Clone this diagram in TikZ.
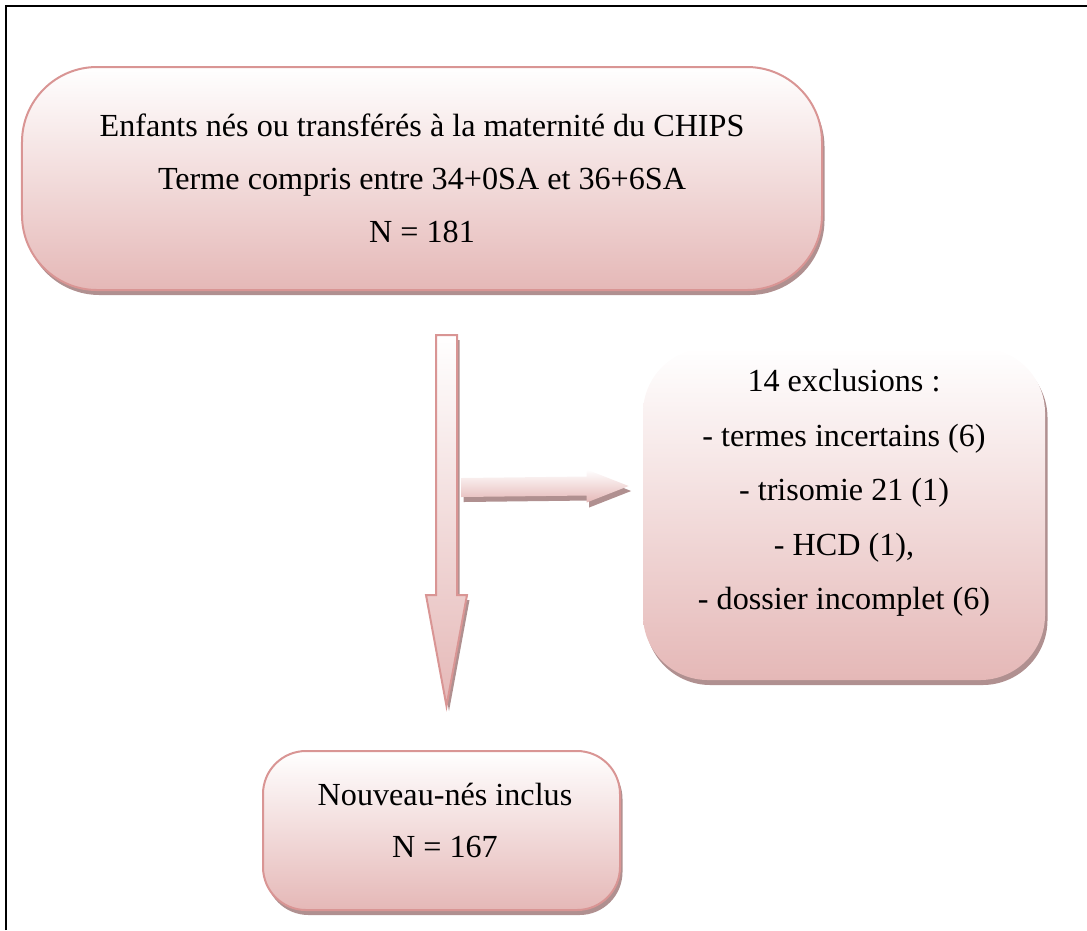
\documentclass[tikz,border=0pt]{standalone}
\usepackage{fontspec}
\setmainfont{Liberation Serif}
\usetikzlibrary{calc,shadows}

\definecolor{rosaline}{HTML}{D99594}
\definecolor{rosafill}{HTML}{E5B8B7}
\definecolor{rosashadow}{HTML}{B09090}

\tikzset{
	boxshadow/.style={drop shadow={shadow xshift=0.5mm, shadow yshift=-1mm, fill=rosashadow, opacity=1}},
	rosebox/.style={top color=white, bottom color=rosafill, boxshadow},
	roseline/.style={draw=rosaline, line width=0.4mm},
	boxtext/.style={align=center, font=\fontsize{18.3}{30}\selectfont, inner sep=0pt},
}

\begin{document}
\begin{tikzpicture}[
x=0.2mm,
y=-0.2mm,
]

	\useasboundingbox (0,0) rectangle (1087,930);

	%%%%%%%%%%%%%%%%%%%%%%%%%%%%
	%Rahmen
	%%%%%%%%%%%%%%%%%%%%%%%%%%%%
	\draw [line width=0.45mm] (6,930) -- (6,6) -- (1087,6);

	%%%%%%%%%%%%%%%%%%%%%%%%%%%%
	%Boxen
	%%%%%%%%%%%%%%%%%%%%%%%%%%%%
	\node [rosebox, roseline, boxtext, rounded corners=15mm, minimum width=160mm, minimum height=44.6mm] (source) at (422,178.5)
		{Enfants nés ou transférés à la maternité du CHIPS\\Terme compris entre 34+0SA et 36+6SA\\N = 181};

	\node [rosebox, rounded corners=13mm, minimum width=80.4mm, minimum height=66.4mm] (excl) at (844,514) {};
	\node [boxtext, font=\fontsize{18.3}{31}\selectfont] (excltext) at ($(excl.center)+(0,-21)$)
		{14 exclusions :\\- termes incertains (6)\\- trisomie 21 (1)\\- HCD (1),\\- dossier incomplet (6)};

	\node [rosebox, roseline, rounded corners=8.6mm, minimum width=71.4mm, minimum height=31.8mm] (incl) at (441.5,830.5) {};
	\node [boxtext] (incltext) at ($(incl.center)+(3.5,-10)$) {Nouveau-nés inclus\\N = 167};

	%%%%%%%%%%%%%%%%%%%%%%%%%%%%
	%Pfeile
	%%%%%%%%%%%%%%%%%%%%%%%%%%%%
	\coordinate (vtail) at ($(source.south)+(24.5,44)$);
	\coordinate (vtip) at ($(incl.north)+(5,-44)$);
	\coordinate (htail) at ($(vtail)+(14.5,152.5)$);
	\coordinate (htip) at ($(excl.west)+(-14,-28)$);

	\path [rosebox, roseline, line join=miter] ($(vtail)+(-10.5,0)$) -- ($(vtail)+(10.5,0)$)
		-- ($(vtip)+(10.5,-111)$) -- ($(vtip)+(20.5,-111)$) -- (vtip)
		-- ($(vtip)+(-20.5,-111)$) -- ($(vtip)+(-10.5,-111)$) -- cycle;

	\path [rosebox] ($(htail)+(0,-9.5)$) -- ($(htip)+(-42,-9.5)$) -- ($(htip)+(-42,-16.5)$)
		-- (htip) -- ($(htip)+(-42,16.5)$) -- ($(htip)+(-42,9.5)$) -- ($(htail)+(0,9.5)$) -- cycle;

\end{tikzpicture}
\end{document}
